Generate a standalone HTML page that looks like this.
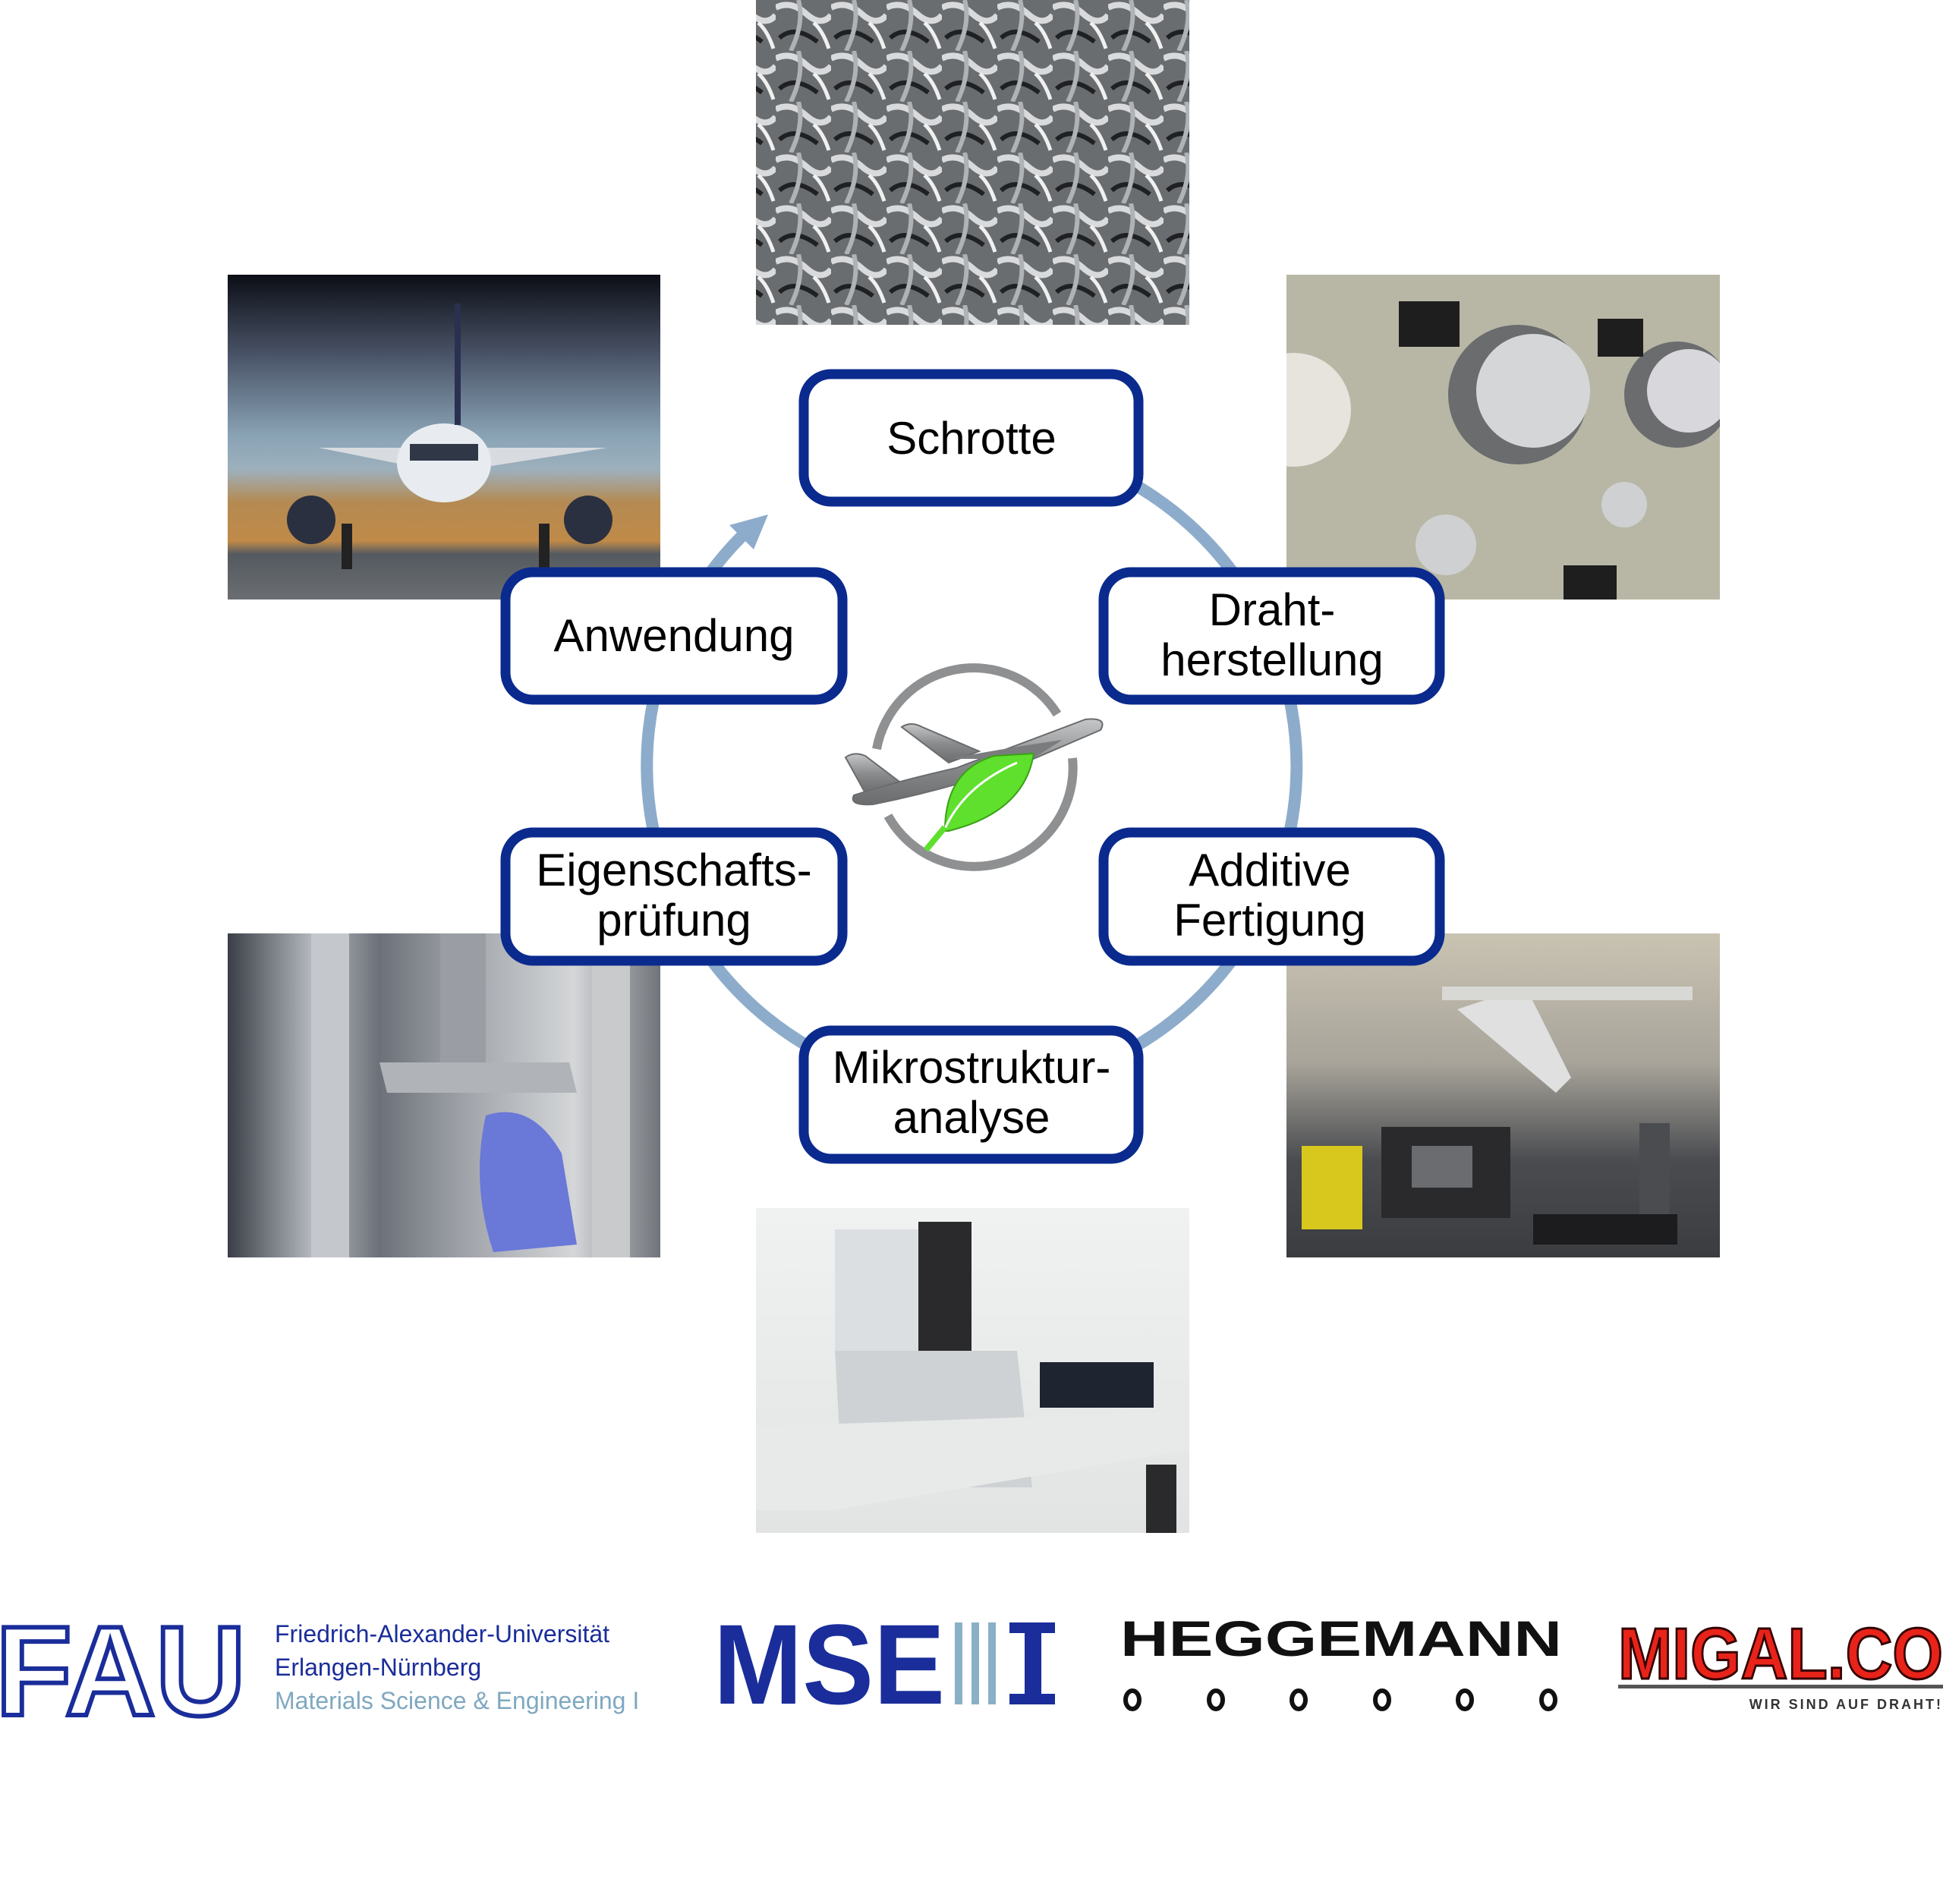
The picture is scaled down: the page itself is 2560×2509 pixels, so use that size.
<!DOCTYPE html>
<html><head><meta charset="utf-8"><style>
html,body{margin:0;padding:0;background:#fff}
svg{display:block}
</style></head><body>
<svg width="2560" height="2509" viewBox="0 0 2560 2509" xmlns="http://www.w3.org/2000/svg" font-family="Liberation Sans, Arial, sans-serif">
<defs>
<linearGradient id="sky" x1="0" y1="0" x2="0" y2="1">
<stop offset="0" stop-color="#0c0e16"/><stop offset="0.25" stop-color="#4a5468"/><stop offset="0.5" stop-color="#8aa4b6"/><stop offset="0.6" stop-color="#9db0bc"/><stop offset="0.7" stop-color="#b48a52"/><stop offset="0.82" stop-color="#c08a48"/><stop offset="0.86" stop-color="#555a60"/><stop offset="1" stop-color="#6a6e72"/>
</linearGradient>
<pattern id="scrap" width="73" height="67" patternUnits="userSpaceOnUse">
<rect width="73" height="67" fill="#6a6d70"/>
<path d="M0 10 Q20 0 40 18 T73 20" stroke="#d8dadc" stroke-width="8" fill="none"/>
<path d="M5 50 Q25 32 55 55" stroke="#1e2022" stroke-width="6" fill="none"/>
<path d="M30 0 Q38 30 20 67" stroke="#b0b3b6" stroke-width="6" fill="none"/>
<path d="M50 30 Q62 40 70 64" stroke="#f0f0f0" stroke-width="5" fill="none"/>
</pattern>
<linearGradient id="lab" x1="0" y1="0" x2="1" y2="0">
<stop offset="0" stop-color="#3a3e46"/><stop offset="0.2" stop-color="#b8bcc2"/><stop offset="0.35" stop-color="#6c7078"/><stop offset="0.55" stop-color="#a0a4aa"/><stop offset="0.8" stop-color="#d4d6d8"/><stop offset="1" stop-color="#70747a"/>
</linearGradient>
<linearGradient id="rob" x1="0" y1="0" x2="0" y2="1">
<stop offset="0" stop-color="#c9c3b2"/><stop offset="0.4" stop-color="#a8a49a"/><stop offset="0.7" stop-color="#4a4c50"/><stop offset="1" stop-color="#3a3c40"/>
</linearGradient>
<linearGradient id="sem" x1="0" y1="0" x2="0" y2="1">
<stop offset="0" stop-color="#f0f2f2"/><stop offset="1" stop-color="#e2e4e4"/>
</linearGradient>
<linearGradient id="metal" x1="0" y1="0" x2="0" y2="1">
<stop offset="0" stop-color="#c4c6c8"/><stop offset="0.5" stop-color="#8a8c8e"/><stop offset="1" stop-color="#6a6c6e"/>
</linearGradient>
<clipPath id="cw"><rect x="1695" y="362" width="571" height="428"/></clipPath>
<clipPath id="cp"><rect x="300" y="362" width="570" height="428"/></clipPath>
</defs>

<!-- Photos -->
<rect x="996" y="0" width="571" height="428" fill="url(#scrap)"/>

<rect x="300" y="362" width="570" height="428" fill="url(#sky)"/>
<g clip-path="url(#cp)">
<path d="M420 590 L800 590 L610 620 L570 620 Z" fill="#d8dce0"/>
<ellipse cx="585" cy="610" rx="62" ry="52" fill="#e8ecf0"/>
<rect x="540" y="585" width="90" height="22" fill="#303848"/>
<line x1="603" y1="400" x2="603" y2="560" stroke="#2a3050" stroke-width="8"/>
<circle cx="410" cy="685" r="32" fill="#2a3040"/><circle cx="775" cy="685" r="32" fill="#2a3040"/>
<rect x="450" y="690" width="14" height="60" fill="#222"/><rect x="710" y="690" width="14" height="60" fill="#222"/>
</g>

<rect x="1695" y="362" width="571" height="428" fill="#b8b7a5"/>
<g clip-path="url(#cw)">
<circle cx="1705" cy="540" r="75" fill="#e6e4dc"/>
<circle cx="2000" cy="520" r="92" fill="#6a6c6e"/><circle cx="2020" cy="515" r="75" fill="#d4d6d8"/>
<circle cx="2210" cy="520" r="70" fill="#6a6c6e"/><circle cx="2225" cy="515" r="55" fill="#d8d8dc"/>
<rect x="1843" y="397" width="80" height="60" fill="#1e1e1e"/><rect x="2105" y="420" width="60" height="50" fill="#1e1e1e"/>
<circle cx="1905" cy="718" r="40" fill="#cfd0d2"/><circle cx="2140" cy="665" r="30" fill="#cfd0d2"/>
<rect x="2060" y="745" width="70" height="45" fill="#1e1e1e"/>
</g>

<rect x="300" y="1230" width="570" height="427" fill="url(#lab)"/>
<g>
<rect x="410" y="1230" width="50" height="427" fill="#c4c8cc"/>
<rect x="580" y="1230" width="60" height="170" fill="#9a9ea4"/>
<path d="M500 1400 L750 1400 L760 1440 L510 1440 Z" fill="#b0b4b8"/>
<path d="M640 1470 Q700 1450 740 1520 L760 1640 L650 1650 Q620 1560 640 1470 Z" fill="#6a78d8"/>
<rect x="780" y="1230" width="50" height="427" fill="#c8cacc"/>
</g>

<rect x="1695" y="1230" width="571" height="427" fill="url(#rob)"/>
<g>
<rect x="1820" y="1485" width="170" height="120" fill="#2a2a2c"/>
<rect x="1860" y="1510" width="80" height="55" fill="#6a6c70"/>
<rect x="1715" y="1510" width="80" height="110" fill="#d8c81e"/>
<path d="M1920 1330 L2010 1300 L2070 1420 L2050 1440 Z" fill="#e0e0e0"/>
<rect x="1900" y="1300" width="330" height="18" fill="#d8d8d4"/>
<rect x="2020" y="1600" width="190" height="40" fill="#1c1c1e"/>
<rect x="2160" y="1480" width="40" height="120" fill="#4a4c50"/>
</g>

<rect x="996" y="1592" width="571" height="428" fill="url(#sem)"/>
<g>
<rect x="1100" y="1620" width="150" height="160" fill="#dcdfe2"/>
<rect x="1210" y="1610" width="70" height="180" fill="#2a2a2c"/>
<path d="M1100 1780 L1340 1780 L1360 1960 L1110 1960 Z" fill="#cfd2d4"/>
<rect x="1370" y="1795" width="150" height="60" fill="#1e2430"/>
<path d="M996 1880 L1567 1860 L1567 1910 L1100 1990 L996 1990 Z" fill="#e8eaea"/>
<rect x="1510" y="1930" width="40" height="90" fill="#2a2a2c"/>
</g>

<!-- Cycle circle -->
<path d="M977 707 A428 428 0 1 0 1280 581" fill="none" stroke="#8daccb" stroke-width="16"/>
<path d="M1012 678 L961 692 L993 724 Z" fill="#8daccb"/>

<!-- Center logo -->
<g>
<path d="M1155 987 A130 130 0 0 1 1393 941" fill="none" stroke="#8e9092" stroke-width="12"/>
<path d="M1413 999 A130 130 0 0 1 1170 1075" fill="none" stroke="#8e9092" stroke-width="12"/>
<!-- back wing -->
<path d="M1188 958 Q1200 950 1215 958 L1290 990 L1250 1005 Z" fill="url(#metal)" stroke="#6a6c6e" stroke-width="2"/>
<!-- tail -->
<path d="M1114 998 Q1125 990 1140 996 L1185 1030 L1140 1045 Z" fill="url(#metal)" stroke="#6a6c6e" stroke-width="2"/>
<!-- fuselage -->
<path d="M1125 1048 Q1180 1030 1260 1012 L1430 948 Q1460 945 1450 962 L1350 1005 Q1250 1040 1150 1060 Q1118 1062 1125 1048 Z" fill="url(#metal)" stroke="#6a6c6e" stroke-width="2"/>
<path d="M1250 1000 Q1330 985 1400 975 L1360 1000 Z" fill="#7a7c7e"/>
<path d="M1245 1095 Q1245 1015 1310 996 L1362 993 Q1350 1070 1250 1095 Z" fill="#5ee02c" stroke="#3aa018" stroke-width="2"/>
<path d="M1238 1110 Q1260 1040 1340 1005" stroke="#fff" stroke-width="3" fill="none"/>
<path d="M1220 1120 L1245 1090" stroke="#5ee02c" stroke-width="8"/>
</g>

<!-- Boxes -->
<g fill="#fff" stroke="#0a2a8e" stroke-width="13">
<rect x="1059" y="493" width="441" height="168" rx="36"/>
<rect x="666" y="754" width="444" height="168" rx="36"/>
<rect x="1454" y="754" width="443" height="168" rx="36"/>
<rect x="666" y="1097" width="444" height="169" rx="36"/>
<rect x="1454" y="1097" width="443" height="169" rx="36"/>
<rect x="1059" y="1358" width="441" height="169" rx="36"/>
</g>
<g font-size="60" fill="#000" text-anchor="middle">
<text x="1280" y="598">Schrotte</text>
<text x="888" y="858">Anwendung</text>
<text x="1676" y="824">Draht-</text>
<text x="1676" y="890">herstellung</text>
<text x="888" y="1167">Eigenschafts-</text>
<text x="888" y="1233">prüfung</text>
<text x="1673" y="1167">Additive</text>
<text x="1673" y="1233">Fertigung</text>
<text x="1280" y="1427">Mikrostruktur-</text>
<text x="1280" y="1493">analyse</text>
</g>

<!-- Logos -->
<g>
<text x="-6" y="2260" font-size="168" font-weight="bold" fill="none" stroke="#1a2d9a" stroke-width="6" textLength="330" lengthAdjust="spacingAndGlyphs">FAU</text>
<text x="362" y="2164" font-size="32" fill="#1a2d9a">Friedrich-Alexander-Universität</text>
<text x="362" y="2208" font-size="32" fill="#1a2d9a">Erlangen-Nürnberg</text>
<text x="362" y="2252" font-size="32" fill="#7fa8c0">Materials Science &amp; Engineering I</text>

<text x="940" y="2245" font-size="150" font-weight="bold" fill="#1a2d9a" textLength="305" lengthAdjust="spacingAndGlyphs">MSE</text>
<g fill="#8ab0c6"><rect x="1258" y="2138" width="10" height="108"/><rect x="1280" y="2138" width="10" height="108"/><rect x="1302" y="2138" width="10" height="108"/></g>
<rect x="1330" y="2138" width="60" height="108" fill="#1a2d9a"/><rect x="1330" y="2152" width="20" height="80" fill="#fff"/><rect x="1372" y="2152" width="20" height="80" fill="#fff"/>

<text x="1476" y="2182" font-size="66" font-weight="bold" fill="#111" textLength="582" lengthAdjust="spacingAndGlyphs">HEGGEMANN</text>
<g fill="none" stroke="#111" stroke-width="6">
<ellipse cx="1492" cy="2240" rx="9" ry="12"/><ellipse cx="1602" cy="2240" rx="9" ry="12"/><ellipse cx="1711" cy="2240" rx="9" ry="12"/><ellipse cx="1821" cy="2240" rx="9" ry="12"/><ellipse cx="1930" cy="2240" rx="9" ry="12"/><ellipse cx="2040" cy="2240" rx="9" ry="12"/>
</g>

<text x="2132" y="2212" font-size="96" font-weight="bold" fill="#e8231a" stroke="#300" stroke-width="3" textLength="428" lengthAdjust="spacingAndGlyphs">MIGAL.CO</text>
<rect x="2132" y="2220" width="428" height="5" fill="#555"/>
<text x="2560" y="2252" font-size="18" font-weight="bold" fill="#333" text-anchor="end" letter-spacing="3">WIR SIND AUF DRAHT!</text>
</g>
</svg>
</body></html>
